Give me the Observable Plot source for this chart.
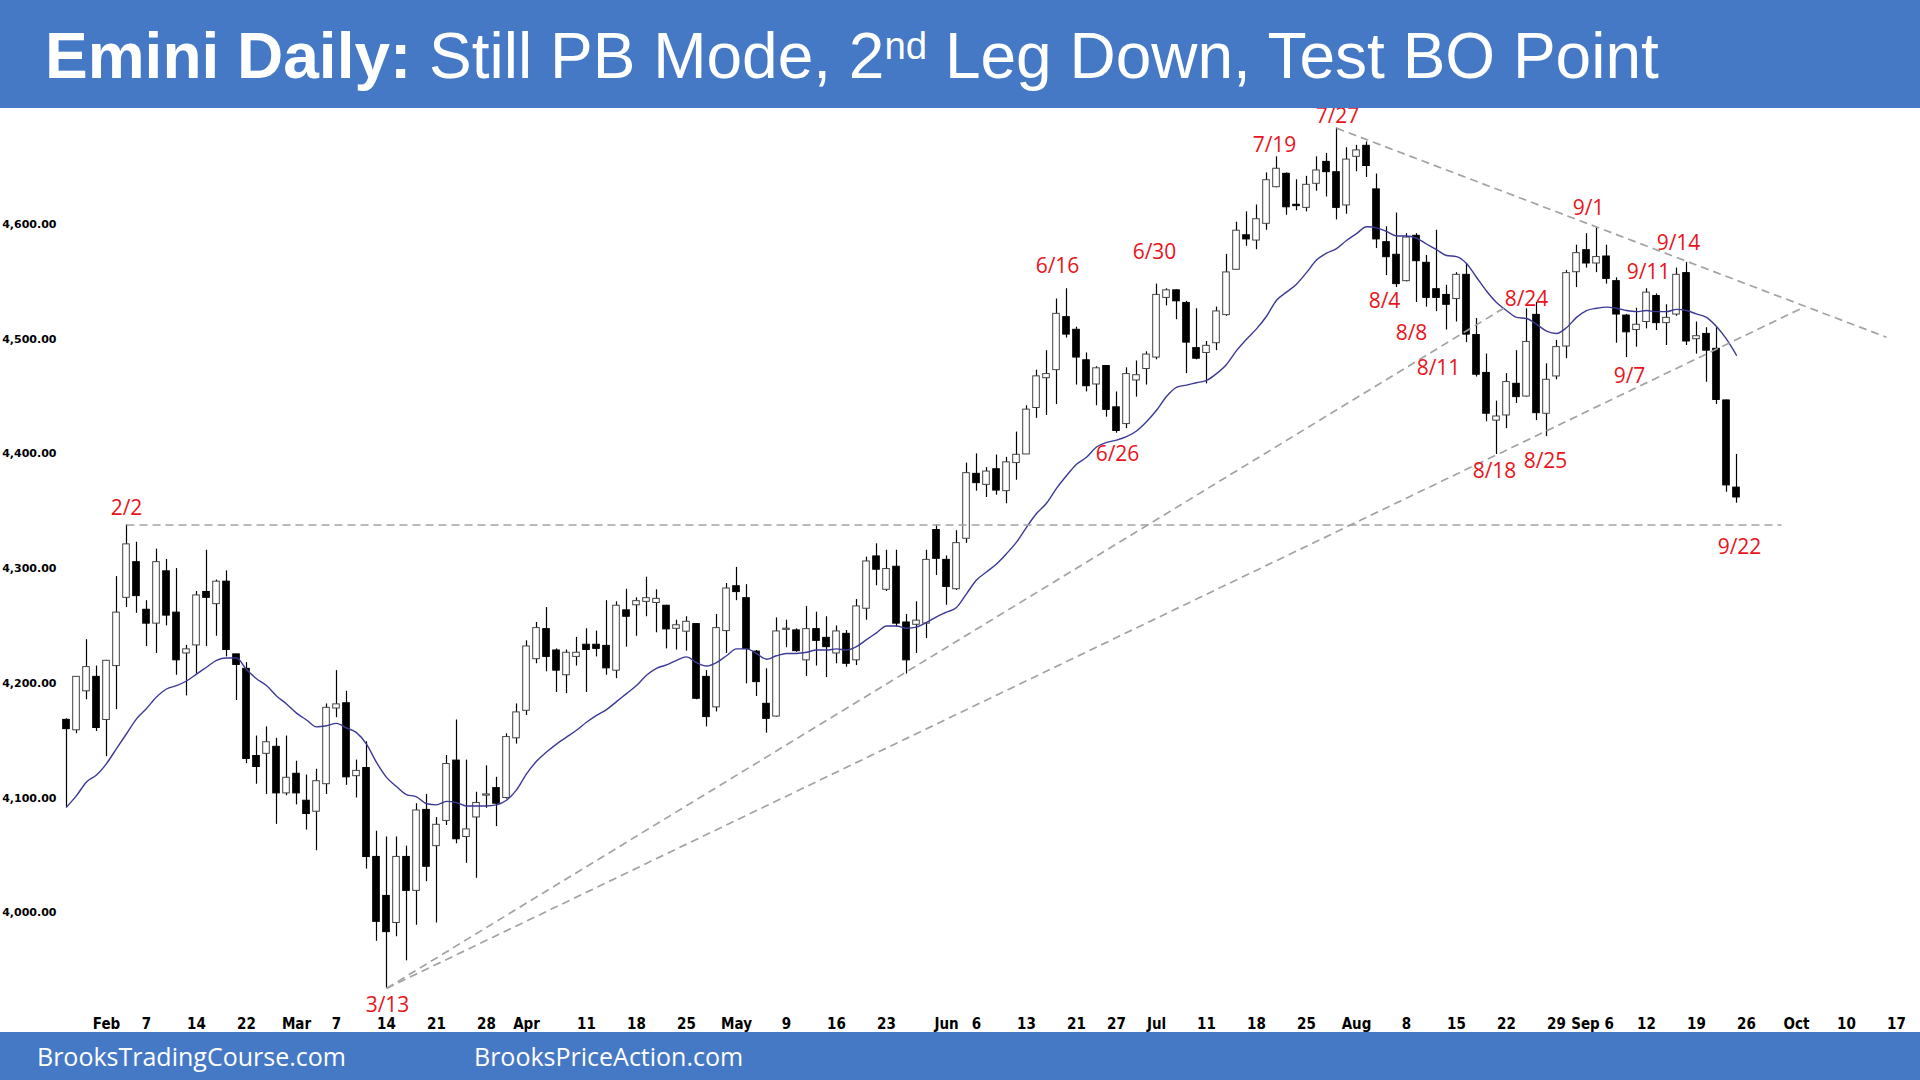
<!DOCTYPE html>
<html><head><meta charset="utf-8">
<script src="https://cdn.jsdelivr.net/npm/d3@7"></script>
<script src="https://cdn.jsdelivr.net/npm/@observablehq/plot@0.6"></script>
<style>
html,body{margin:0;padding:0;background:#fff;width:1920px;height:1080px;overflow:hidden}
#header{position:relative;height:108px;background:#4679c5;color:#fff}
#title{position:absolute;left:45px;top:24px;line-height:64px;font-family:"Liberation Sans",Arial,sans-serif;font-size:64px;white-space:nowrap}
#title sup{font-size:0.6em;line-height:0;vertical-align:baseline;position:relative;top:-19px}
#chart{height:924px}
#footer{position:relative;height:48px;background:#4679c5;color:#fff;font-family:"Open Sans",sans-serif;font-size:25px}
#footer span{position:absolute;top:0;line-height:48px}
</style></head>
<body>
<div id="header"><div id="title"><b>Emini Daily:</b> Still PB Mode, 2<sup>nd</sup> Leg Down, Test BO Point</div></div>
<div id="chart"></div>
<div id="footer"><span style="left:37px">BrooksTradingCourse.com</span><span style="left:474px">BrooksPriceAction.com</span></div>
<script>
// Daily bars, index 0 = Jan 25 2023 ... index 167 = Sep 22 2023
const open = [4167.5,4159,4193,4205,4168,4215,4274.5,4305,4263.5,4252,4297,4261,4226,4233,4279,4269,4288,4224.6,4212,4136,4138.5,4144,4104,4120.5,4097,4088,4112,4178,4182,4119,4125.5,4048,4014,3991,4048,4019,4089,4058,4080,4132,4066,4083,4102,4108,4100,4152,4176,4221,4246.6,4228,4207,4223,4233,4233,4232,4211,4263,4268,4271,4270,4267,4247.5,4245,4251,4205,4179,4245.5,4284,4273.6,4227,4181.5,4171,4246.6,4245.5,4220,4246.6,4239,4226,4242.5,4220,4265,4310,4281.5,4301,4252.4,4251,4252,4333,4307,4282,4326,4382,4373,4386,4367.5,4392,4399.5,4440,4466,4473,4518.6,4507.6,4481,4460.5,4476,4440,4426,4464,4474,4484,4536,4542,4531,4491.6,4488,4496.5,4521,4560.5,4590,4586,4600.6,4632.5,4643.6,4616.6,4614.5,4635.5,4654,4645,4616.6,4659,4668,4630,4584,4573,4550.6,4589.5,4566,4543,4538,4535,4555.5,4503,4470,4429,4433.5,4460.5,4450,4520.6,4435,4467.5,4493.6,4558.4,4577,4566,4571.5,4550,4520,4508,4515,4537,4514,4521.5,4557,4500,4504,4491,4446,4370];
const high = [4169,4205.5,4238,4215,4220,4293,4338,4323,4272,4317,4308,4300,4233,4280,4316,4290,4298,4225,4218,4154,4162,4152,4154,4132,4120,4125,4182,4211,4193,4133,4149,4071,4066,4066,4058,4095,4103,4083,4137,4168,4133,4105,4128,4118,4156,4182,4237,4253,4266,4230,4229,4240,4247.5,4245.5,4272,4271,4282,4274.5,4292.5,4281.5,4268,4255,4258,4252,4211,4260,4287,4301,4286,4228.5,4212.6,4257,4255,4247.5,4267,4262,4258,4250,4246,4273,4310,4321.6,4316,4316,4260,4271,4316,4338,4311,4333,4392,4400,4388,4399,4397,4419,4442,4473,4490,4535,4544,4510.5,4488,4476,4477,4454,4475,4481,4489,4548,4544,4543,4533,4526.5,4498,4528,4574,4602,4611,4617,4645,4659,4645,4639,4642,4659,4662,4684,4667,4669,4672,4644,4598,4610,4592,4592,4573,4595,4547,4558,4566,4518,4487,4446,4470,4490,4526.5,4532,4478.5,4499,4560,4582,4592,4598,4582,4553.5,4521.5,4527,4544,4539.5,4530,4562,4567,4515,4510,4510,4447,4399.5];
const low = [4092,4156,4185.6,4158,4136,4177,4266,4261,4232,4226,4250,4207,4189,4208,4232,4241,4223,4185,4130,4112,4103,4077,4102,4094,4072,4054,4103,4170,4111,4100,4038,3975,3934,3979,3958,3989,4027,3991,4076,4060,4043,4030,4091,4075,4099,4147,4172,4217,4210,4192,4191,4215,4192,4223,4207,4204,4231.5,4241,4258,4244,4230,4229,4228,4185.6,4162,4175,4226,4272,4199.5,4188.5,4156.5,4170.5,4231,4227,4206,4215,4205,4217,4214,4215.5,4255,4285,4280,4249,4208,4226,4239,4294,4268,4281,4322,4367.5,4362,4364,4356.5,4377,4399.5,4431,4433.5,4443,4501,4460,4454,4442,4432,4418,4422,4449.5,4460,4482,4529,4517,4470,4482,4461,4490,4520,4560,4581,4578,4595,4632,4608,4612,4611,4629,4624,4604,4609,4646,4641,4579,4555.5,4545,4550,4532,4528,4524,4508,4515,4497,4467,4428,4399.5,4422,4444,4449.5,4429,4415,4464.6,4483,4545,4562,4558,4548,4496.5,4484,4493,4509,4507.6,4494.5,4520,4494.5,4487,4462.5,4443,4366.6,4357];
const close = [4160,4205,4213.5,4161,4219,4261,4320.5,4276,4252,4305,4259,4220,4229,4276,4274.5,4288,4229,4216,4134,4127,4148,4104,4117,4104,4086,4114,4178,4181,4118,4123,4048.5,3992,3983,4048,4019,4088.5,4040,4076,4129,4064,4072,4095,4102.5,4095,4152.5,4174,4231.5,4247.5,4223,4211,4226,4226,4229,4230,4213,4267,4258,4271,4273.6,4273,4247,4250,4253,4186.5,4170.5,4247.5,4282,4279.5,4230,4201,4169,4244.6,4247,4228,4246.6,4237,4231.5,4244.6,4217,4266.4,4305.6,4299,4299,4252,4220,4254,4307,4308.5,4284,4321.6,4382.6,4374.5,4384,4368,4392,4398.6,4438,4467,4469,4521.5,4504,4484,4459,4474,4438.4,4420,4469,4468,4486,4538,4542,4533,4497,4483,4493.6,4523.6,4557.6,4594,4587,4604,4638,4648,4615,4616,4634,4646.5,4645.6,4614.5,4656,4664,4651,4587,4571.5,4548,4588,4568,4536,4536,4530,4555.5,4504,4469,4435,4432,4462,4449.5,4497,4435.5,4464,4492.5,4557,4574.4,4566,4571,4552.6,4521.5,4506,4512,4540,4514,4518,4555.5,4498,4502,4490,4447,4372.5,4362];
// 20-bar moving average as drawn on the chart
const ema = [4092,4102,4114,4120,4130,4143,4156,4169,4178,4188,4195,4198,4202,4208,4214,4220,4222,4222,4212,4204,4198,4189,4182,4174,4168,4162,4163,4165,4161,4157,4147,4131,4118,4110,4103,4101,4095,4094,4097,4096,4093,4093,4093,4094,4098,4107,4121,4132,4140,4147,4153,4159,4166,4172,4177,4184,4191,4198,4207,4213,4216,4220,4223,4218,4215,4218,4224,4230,4230,4226,4221,4224,4226,4226,4227,4229,4229,4230,4229,4232,4238,4244,4250,4250,4248,4249,4253,4258,4262,4266,4278,4290,4297,4304,4313,4323,4336,4348,4357,4370,4381,4391,4397,4406,4410,4412,4415,4420,4428,4438,4450,4458,4460,4462,4464,4470,4478,4490,4500,4509,4520,4534,4541,4548,4558,4569,4575,4579,4586,4592,4598,4597,4594,4590,4590,4588,4583,4578,4573,4572,4566,4554,4542,4532,4525,4519,4518,4513,4507,4505,4510,4519,4525,4527,4528,4527,4525,4524,4525,4524,4524,4526,4525,4522,4519,4511,4500,4486];
// x-axis ticks (bar index) and labels
const tickIndex = [4,8,13,18,23,27,32,37,42,46,52,57,62,67,72,77,82,88,91,96,101,105,109,114,119,124,129,134,139,144,149,152.6,158,163,168,173,178,183];
const tickLabel = ["Feb","7","14","22","Mar","7","14","21","28","Apr","11","18","25","May","9","16","23","Jun","6","13","21","27","Jul","11","18","25","Aug","8","15","22","29","Sep 6","12","19","26","Oct","10","17"];
const yTicks = [4000,4100,4200,4300,4400,4500,4600];
// annotations: label, bar position, price position
const annoLabel = ["2/2","3/13","6/16","6/26","6/30","7/19","7/27","8/4","8/8","8/11","8/18","8/24","8/25","9/1","9/7","9/11","9/14","9/22"];
const annoBar = [6,32.1,99.1,105.1,108.8,120.8,127.1,131.8,134.5,137.2,142.8,146,147.9,152.2,156.3,158.2,161.2,167.3];
const annoPrice = [4353,3919,4564,4400,4576,4669,4694,4533,4505,4475,4385,4535,4394,4614,4468,4558,4584,4319];
// dashed trend lines (bar, price) endpoints
const lineX1 = [6,32,32,127];
const lineY1 = [4338,3934,3934,4684];
const lineX2 = [171.5,144,173.4,182];
const lineY2 = [4338,4528.5,4526.5,4501.7];

const bars = open.map((o,i)=>({i,o,h:high[i],l:low[i],c:close[i]}));
const ticks = tickIndex.map((x,i)=>({x,label:tickLabel[i]}));
const annos = annoLabel.map((t,i)=>({t,x:annoBar[i],y:annoPrice[i]}));
const lines = lineX1.map((x1,i)=>({x1,y1:lineY1[i],x2:lineX2[i],y2:lineY2[i]}));
const emaPts = ema.map((v,i)=>({i,v}));
const half = 0.33;
const fmt = d3.format(",.2f");

const chart = Plot.plot({
  width:1920, height:924,
  marginLeft:56, marginRight:4, marginTop:1.3, marginBottom:18.9,
  x:{type:"linear", domain:[-1,185], axis:null},
  y:{domain:[3912,4700], axis:null},
  style:{background:"#fff", overflow:"visible"},
  marks:[
    Plot.ruleX(bars,{x:"i", y1:"l", y2:"h", stroke:"#000", strokeWidth:1.2}),
    Plot.rect(bars,{x1:d=>d.i-half, x2:d=>d.i+half, y1:d=>Math.min(d.o,d.c), y2:d=>Math.max(d.o,d.c)+0.6,
      fill:d=>d.c>=d.o?"#fff":"#000", stroke:d=>d.c>=d.o?"#444":"#000", strokeWidth:1}),
    Plot.line(emaPts,{x:"i", y:"v", stroke:"#3b3a96", strokeWidth:1.4, curve:"monotone-x"}),
    Plot.link(lines,{x1:"x1", y1:"y1", x2:"x2", y2:"y2", stroke:"#a3a3a3", strokeWidth:1.7, strokeDasharray:"8,5"}),
    Plot.text(yTicks,{y:d=>d, frameAnchor:"left", dx:0, textAnchor:"end", text:d=>fmt(d),
      fontFamily:"DejaVu Sans", fontWeight:"bold", fontSize:11, fill:"#000"}),
    Plot.text(ticks,{x:"x", frameAnchor:"bottom", dy:15, text:"label",
      fontFamily:"'Liberation Sans Narrow','DejaVu Sans Condensed',sans-serif", fontWeight:"bold", fontSize:15, fill:"#000"}),
    Plot.text(annos,{x:"x", y:"y", text:"t", fill:"#e8141b", fontSize:21, fontFamily:"Open Sans"})
  ]
});
document.getElementById("chart").appendChild(chart);
</script>
</body></html>
